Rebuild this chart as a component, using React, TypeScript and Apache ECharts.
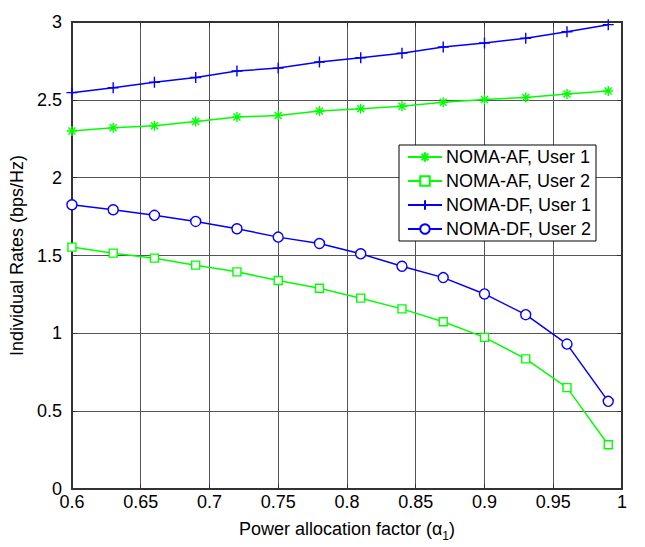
import React, { useEffect, useRef } from "react";
import * as echarts from "echarts";

const alpha = [0.6, 0.63, 0.66, 0.69, 0.72, 0.75, 0.78, 0.81, 0.84, 0.87, 0.9, 0.93, 0.96, 0.99];
const afUser1 = [2.3, 2.32, 2.333, 2.361, 2.389, 2.4, 2.428, 2.443, 2.459, 2.485, 2.502, 2.515, 2.537, 2.557];
const afUser2 = [1.554, 1.515, 1.483, 1.438, 1.395, 1.339, 1.29, 1.226, 1.157, 1.074, 0.974, 0.836, 0.651, 0.284];
const dfUser1 = [2.546, 2.578, 2.613, 2.643, 2.685, 2.704, 2.743, 2.77, 2.8, 2.839, 2.865, 2.896, 2.937, 2.983];
const dfUser2 = [1.826, 1.794, 1.758, 1.719, 1.672, 1.618, 1.577, 1.511, 1.431, 1.358, 1.253, 1.12, 0.931, 0.563];

const seriesNames = ["NOMA-AF, User 1", "NOMA-AF, User 2", "NOMA-DF, User 1", "NOMA-DF, User 2"];
const GREEN = "#00ff00";
const BLUE = "#0000ff";
const FONT = "'Liberation Sans', Arial, sans-serif";

const STAR = "path://M0,5L10,5M5,0L5,10M1.5,1.5L8.5,8.5M8.5,1.5L1.5,8.5";
const PLUS = "path://M0,5L10,5M5,0L5,10";

function pairs(ys: number[]) {
  return alpha.map((a, i) => [a, ys[i]]);
}

export default function App() {
  const ref = useRef<HTMLDivElement>(null);
  useEffect(() => {
    if (!ref.current) return;
    const chart = echarts.init(ref.current, null, { renderer: "svg" });
    const axisColor = "#333";
    const gridColor = "#555";
    const mk = (name: string, ys: number[], color: string, symbol: string, size: number) => ({
      name,
      type: "line",
      data: pairs(ys),
      symbol,
      symbolSize: size,
      symbolKeepAspect: true,
      showSymbol: true,
      lineStyle: { color, width: 1.5 },
      itemStyle: {
        color: symbol.startsWith("path") ? color : "#fff",
        borderColor: color,
        borderWidth: 1.4,
      },
      emphasis: { disabled: true },
    });
    chart.setOption({
      animation: false,
      backgroundColor: "#fff",
      textStyle: { fontFamily: FONT },
      grid: { left: 63, right: 23, top: 22, bottom: 58, show: false },
      legend: {
        show: true,
        orient: "vertical",
        left: 399,
        top: 145,
        data: seriesNames,
        backgroundColor: "#fff",
        borderColor: "#000",
        borderWidth: 1,
        borderRadius: 0,
        padding: [3, 5, 3, 8],
        itemGap: 6,
        itemWidth: 34,
        itemHeight: 12,
        textStyle: { fontSize: 18, color: "#000", fontFamily: FONT, padding: [0, 0, 0, -1] },
      },
      xAxis: [
        {
          type: "value",
          min: 0.6,
          max: 1,
          interval: 0.05,
          name: "Power allocation factor ({a|α}{s|1})",
          nameLocation: "middle",
          nameGap: 24,
          nameTextStyle: {
            fontSize: 18,
            color: "#000",
            fontFamily: FONT,
            lineHeight: 26,
            rich: {
              a: { fontSize: 18, lineHeight: 26, color: "#000", fontFamily: FONT },
              s: { fontSize: 12, lineHeight: 12, verticalAlign: "bottom", color: "#000", fontFamily: FONT },
            },
          },
          axisLine: { show: true, onZero: false, lineStyle: { color: axisColor, width: 2 } },
          axisTick: { show: true, inside: true, length: 5, lineStyle: { color: axisColor } },
          axisLabel: {
            fontSize: 18,
            color: "#000",
            margin: 4,
            fontFamily: FONT,
            formatter: (v: number) => String(+v.toFixed(2)),
          },
          splitLine: { show: true, lineStyle: { color: gridColor, width: 1 } },
        },
        {
          type: "value",
          position: "top",
          min: 0.6,
          max: 1,
          interval: 0.05,
          axisLine: { show: true, onZero: false, lineStyle: { color: axisColor, width: 2 } },
          axisTick: { show: true, inside: true, length: 5, lineStyle: { color: axisColor } },
          axisLabel: { show: false },
          splitLine: { show: false },
        },
      ],
      yAxis: [
        {
          type: "value",
          min: 0,
          max: 3,
          interval: 0.5,
          name: "Individual Rates (bps/Hz)",
          nameLocation: "middle",
          nameGap: 36,
          nameTextStyle: { fontSize: 18, color: "#000", fontFamily: FONT },
          axisLine: { show: true, onZero: false, lineStyle: { color: axisColor, width: 2 } },
          axisTick: { show: true, inside: true, length: 5, lineStyle: { color: axisColor } },
          axisLabel: {
            fontSize: 18,
            color: "#000",
            margin: 10,
            fontFamily: FONT,
            formatter: (v: number) => String(+v.toFixed(2)),
          },
          splitLine: { show: true, lineStyle: { color: gridColor, width: 1 } },
        },
        {
          type: "value",
          position: "right",
          min: 0,
          max: 3,
          interval: 0.5,
          axisLine: { show: true, onZero: false, lineStyle: { color: axisColor, width: 2 } },
          axisTick: { show: true, inside: true, length: 5, lineStyle: { color: axisColor } },
          axisLabel: { show: false },
          splitLine: { show: false },
        },
      ],
      series: [
        mk(seriesNames[0], afUser1, GREEN, STAR, 10),
        mk(seriesNames[1], afUser2, GREEN, "rect", 8),
        mk(seriesNames[2], dfUser1, BLUE, PLUS, 11),
        mk(seriesNames[3], dfUser2, BLUE, "circle", 10),
      ],
    });
    return () => chart.dispose();
  }, []);
  return (
    <div
      ref={ref}
      style={{ position: "fixed", left: 0, top: 0, width: 645, height: 547, background: "#fff" }}
    />
  );
}
